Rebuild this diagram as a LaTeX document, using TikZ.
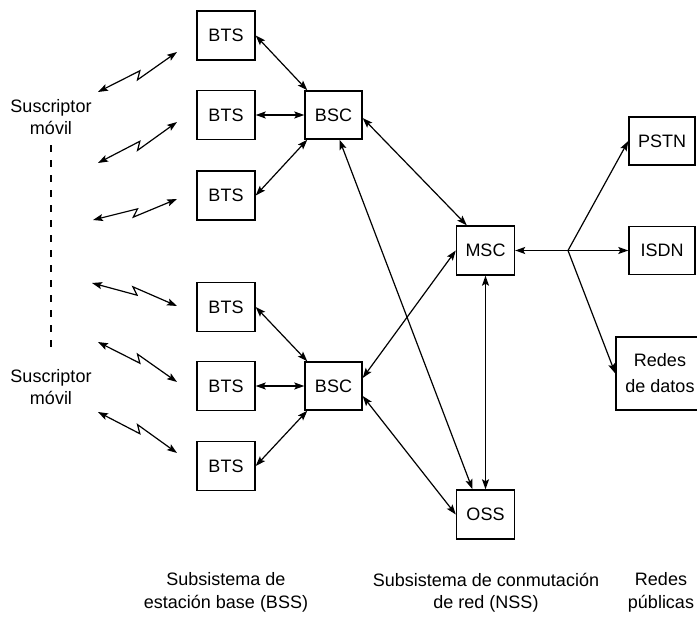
\documentclass[tikz,border=0pt]{standalone}
\usepackage{fontspec}
\setmainfont{Liberation Sans}
\usetikzlibrary{arrows.meta,calc}
\begin{document}
\begin{tikzpicture}[x=1pt,y=-1pt,
  font=\fontsize{18}{22.5}\selectfont,
  unit/.style={draw,line width=1.4pt,minimum width=58pt,minimum height=49pt,inner sep=0pt},
  link/.style={line width=1.2pt,{Stealth[length=10pt,width=7pt,inset=2pt]}-{Stealth[length=10pt,width=7pt,inset=2pt]}},
  feed/.style={line width=1.2pt,-{Stealth[length=10pt,width=7pt,inset=2pt]}},
  radio/.style={link,to path={-- ($(\tikztostart)!0.53!(\tikztotarget)$)
      -- ($(\tikztostart)!0.46!(\tikztotarget)!7pt!#1:(\tikztotarget)$)
      -- (\tikztotarget)}},
  caption/.style={align=center,inner sep=0pt},
  sep/.style={line width=1.3pt,dash pattern=on 7pt off 8pt}
]
\useasboundingbox (0,0) rectangle (697,617);
\clip (0,0) rectangle (697,617);

% base station subsystem
\node[unit] (bts1) at (226,35.5) {BTS};
\node[unit] (bts2) at (226,115) {BTS};
\node[unit] (bts3) at (226,195.5) {BTS};
\node[unit] (bts4) at (226,307) {BTS};
\node[unit] (bts5) at (226,386) {BTS};
\node[unit] (bts6) at (226,466) {BTS};
\node[unit,minimum width=57pt,minimum height=48pt] (bsc1) at (333.5,115) {BSC};
\node[unit,minimum width=57pt,minimum height=48pt] (bsc2) at (333.5,386) {BSC};

% switching subsystem
\node[unit] (msc) at (485.5,250.5) {MSC};
\node[unit] (oss) at (485.5,514.5) {OSS};

% public networks
\node[unit,minimum width=66pt,minimum height=48pt] (pstn) at (662,141) {PSTN};
\node[unit,minimum width=66pt,minimum height=48pt] (isdn) at (662,250.5) {ISDN};
\node[unit,minimum width=88pt,minimum height=73pt,align=center,
      font=\fontsize{18}{26}\selectfont] (datos) at (660,373.5) {Redes\\de datos};

% radio links to the mobile subscribers
\coordinate (m1) at (98,92);   \coordinate (r1) at (177,52);
\coordinate (m2) at (98,163);  \coordinate (r2) at (177,122);
\coordinate (m3) at (93,220);  \coordinate (r3) at (177,199);
\coordinate (m4) at (92,283);  \coordinate (r4) at (177,306);
\coordinate (m5) at (98,342);  \coordinate (r5) at (177,382);
\coordinate (m6) at (98,412);  \coordinate (r6) at (177,453);
\draw[radio=-90] (m1) to (r1);
\draw[radio=-90] (m2) to (r2);
\draw[radio=-90] (m3) to (r3);
\draw[radio=90] (m4) to (r4);
\draw[radio=90] (m5) to (r5);
\draw[radio=90] (m6) to (r6);

% BTS to BSC
\draw[link] (bts1.east) -- ([xshift=3pt]bsc1.north west);
\draw[link] (bts2) -- (bsc1);
\draw[link] (bts3.east) -- ([xshift=3pt]bsc1.south west);
\draw[link] (bts4.east) -- ([xshift=3pt]bsc2.north west);
\draw[link] (bts5) -- (bsc2);
\draw[link] (bts6.east) -- ([xshift=3pt]bsc2.south west);

% BSC to MSC / OSS
\draw[link] ([yshift=-3pt]bsc1.east) -- ([xshift=11pt]msc.north west);
\draw[link] ([yshift=8pt]bsc2.east) -- (msc.west);
\draw[link] ([xshift=6pt]bsc1.south) -- ([xshift=-13pt]oss.north);
\draw[link] ([yshift=-10pt]bsc2.east) -- (oss.west);
\draw[link] (msc) -- (oss);

% MSC to public networks
\draw[link] (msc) -- (isdn);
\coordinate (hub) at (568,250.5);
\draw[feed] (hub) -- (pstn.west);
\draw[feed] (hub) -- (datos.west);

% subscriber labels
\node[caption] (sub1) at (51,117) {Suscriptor\\móvil};
\node[caption] (sub2) at (51,387) {Suscriptor\\móvil};
\draw[sep] ([yshift=-10pt]sub1.south) -- ([yshift=16pt]sub2.north);

% subsystem captions
\node[caption] (bss) at (226,592.5) {Subsistema de\\estación base (BSS)};
\node[caption] (nss) at (486,592.5) {Subsistema de conmutación\\de red (NSS)};
\node[caption] (pub) at (661,592.5) {Redes\\públicas};
\end{tikzpicture}
\end{document}
